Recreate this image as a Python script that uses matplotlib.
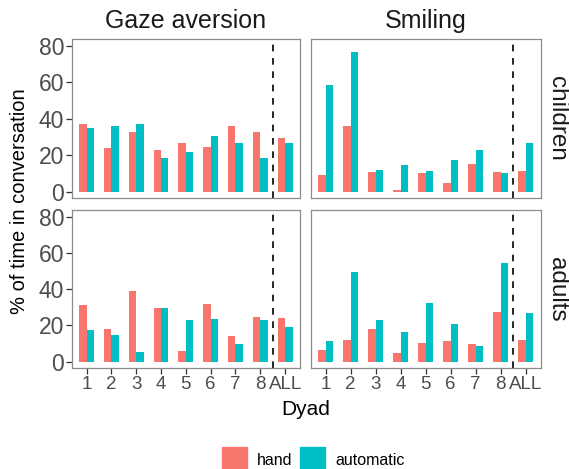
import numpy as np
import matplotlib
matplotlib.use('Agg')
from matplotlib import pyplot as plt
from matplotlib.patches import Rectangle

plt.rcParams['font.family'] = ['Liberation Sans', 'DejaVu Sans']

dyads = ['1', '2', '3', '4', '5', '6', '7', '8', 'ALL']
measures = ['Gaze aversion', 'Smiling']
groups = ['children', 'adults']
series = ['hand', 'automatic']
colors = ['#F8766D', '#00BFC4']

# % of time in conversation
gaze_children_hand = [37.1, 23.8, 32.5, 22.9, 26.4, 24.2, 36.0, 32.5, 29.3]
gaze_children_auto = [35.1, 36.0, 37.1, 18.2, 21.6, 30.7, 26.4, 18.2, 26.9]
smile_children_hand = [9.1, 35.8, 10.9, 0.7, 10.0, 4.9, 15.1, 10.5, 11.3]
smile_children_auto = [58.4, 76.4, 11.8, 14.4, 11.5, 17.3, 22.9, 10.2, 26.9]
gaze_adults_hand = [31.3, 17.8, 38.9, 29.8, 5.8, 32.0, 14.2, 24.5, 24.2]
gaze_adults_auto = [17.5, 14.7, 5.3, 29.5, 23.1, 23.5, 10.0, 22.9, 19.3]
smile_adults_hand = [6.5, 11.8, 18.0, 4.9, 10.5, 11.5, 9.6, 27.6, 12.2]
smile_adults_auto = [11.5, 49.6, 22.9, 16.4, 32.5, 20.9, 8.9, 54.4, 26.9]

data = {
    ('children', 'Gaze aversion'): (gaze_children_hand, gaze_children_auto),
    ('children', 'Smiling'): (smile_children_hand, smile_children_auto),
    ('adults', 'Gaze aversion'): (gaze_adults_hand, gaze_adults_auto),
    ('adults', 'Smiling'): (smile_adults_hand, smile_adults_auto),
}

W, H = 569, 469
fig = plt.figure(figsize=(W / 100, H / 100), dpi=100)

def box(x0, y0, x1, y1):
    return [x0 / W, 1 - y1 / H, (x1 - x0) / W, (y1 - y0) / H]

col_x = [(71.7, 300.0), (310.7, 540.7)]
row_y = [(39.0, 198.0), (210.0, 368.0)]
x = np.arange(1, len(dyads) + 1)
bw = 0.3
txt_gray = '#4D4D4D'

for r, grp in enumerate(groups):
    for c, meas in enumerate(measures):
        ax = fig.add_axes(box(col_x[c][0], row_y[r][0], col_x[c][1], row_y[r][1]))
        hand, auto = data[(grp, meas)]
        ax.bar(x - bw / 2, hand, bw, color=colors[0])
        ax.bar(x + bw / 2, auto, bw, color=colors[1])
        ax.axvline(8.5, color='black', ls=(0, (4, 4)), lw=1.2)
        ax.set_xlim(0.4, 9.6)
        ax.set_ylim(-3.5, 83.6)
        ax.set_yticks([0, 20, 40, 60, 80])
        ax.set_xticks(x)
        for s in ax.spines.values():
            s.set_color('#8C8C8C')
            s.set_linewidth(0.9)
        ax.tick_params(colors='#333333', labelcolor=txt_gray, length=4, width=0.9)
        ax.tick_params(axis='y', labelsize=16.5, pad=1.5)
        ax.tick_params(axis='x', labelsize=13.5, pad=2)
        if c == 0:
            ax.set_yticklabels(['0', '20', '40', '60', '80'])
        else:
            ax.tick_params(axis='y', left=False, labelleft=False)
        if r == 1:
            ax.set_xticklabels(dyads)
        else:
            ax.tick_params(axis='x', bottom=False, labelbottom=False)

# strip labels
for c, meas in enumerate(measures):
    fig.text((col_x[c][0] + col_x[c][1]) / 2 / W, 1 - 21 / H, meas,
             ha='center', va='center', fontsize=18, color='#1A1A1A')
for r, grp in enumerate(groups):
    fig.text(557 / W, 1 - (row_y[r][0] + row_y[r][1]) / 2 / H, grp,
             ha='center', va='center', rotation=-90, fontsize=17.5, color='#1A1A1A')

fig.text(20 / W, 1 - 201 / H, '% of time in conversation', rotation=90,
         ha='center', va='center', fontsize=14.5, color='black')
fig.text(306 / W, 1 - 409 / H, 'Dyad', ha='center', va='center',
         fontsize=15, color='black')

# legend
for i, (lab, col) in enumerate(zip(series, colors)):
    x0 = [222, 300][i]
    fig.patches.append(Rectangle((x0 / W, 1 - 471 / H), 25 / W, 24 / H,
                                 transform=fig.transFigure, color=col))
    fig.text((x0 + 35) / W, 1 - 460 / H, lab, ha='left', va='center',
             fontsize=11.5, color='black')

fig.savefig('out.png', dpi=100)
